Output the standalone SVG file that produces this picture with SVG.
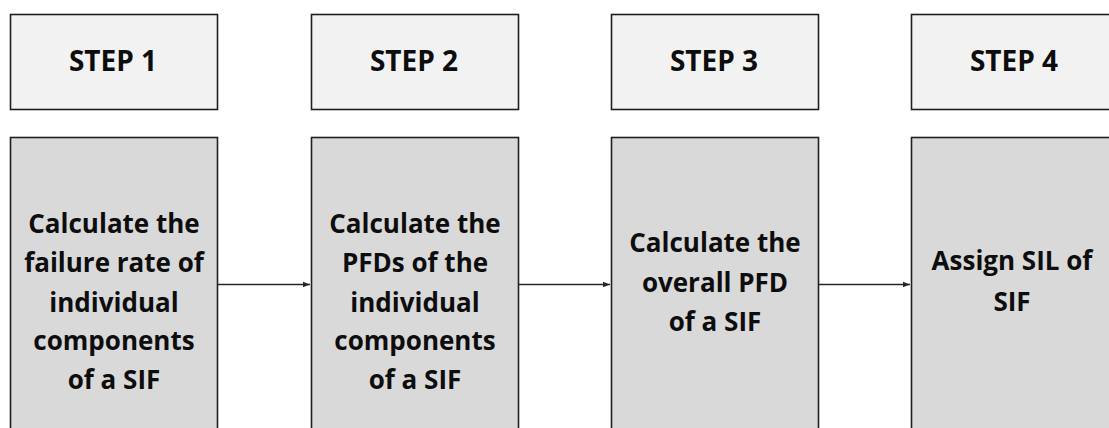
<svg xmlns="http://www.w3.org/2000/svg" width="1109" height="428" viewBox="0 0 1109 428">
  <style>
    .head { fill: #f2f2f2; stroke: #1f1f1f; stroke-width: 1.6; }
    .body { fill: #d9d9d9; stroke: #1f1f1f; stroke-width: 1.6; }
    text { font-family: "Open Sans", Lato, "Liberation Sans", sans-serif; font-weight: bold; fill: #0d0d0d; text-anchor: middle; font-size: 26px; }
    text.h { font-size: 28px; }
    .conn { stroke: #262626; stroke-width: 1.5; fill: none; marker-end: url(#arrow); }
  </style>
  <defs>
    <marker id="arrow" viewBox="0 0 10 10" refX="10" refY="5" markerWidth="8" markerHeight="7" markerUnits="userSpaceOnUse" orient="auto">
      <path d="M0,1 L10,5 L0,9 Z" fill="#262626"/>
    </marker>
  </defs>

  <!-- step headers -->
  <g id="step1-head"><rect class="head" x="10.5" y="14.5" width="207" height="95"/><text class="h" x="113" y="71">STEP 1</text></g>
  <g id="step2-head"><rect class="head" x="311.5" y="14.5" width="207" height="95"/><text class="h" x="414" y="71">STEP 2</text></g>
  <g id="step3-head"><rect class="head" x="611.5" y="14.5" width="207" height="95"/><text class="h" x="714" y="71">STEP 3</text></g>
  <g id="step4-head"><rect class="head" x="911.5" y="14.5" width="207" height="95"/><text class="h" x="1014" y="71">STEP 4</text></g>

  <!-- step tasks -->
  <g id="step1-task">
    <rect class="body" x="10.5" y="137.5" width="207" height="340"/>
    <text x="114" y="233">Calculate the</text>
    <text x="114" y="272">failure rate of</text>
    <text x="114" y="312">individual</text>
    <text x="114" y="350">components</text>
    <text x="114" y="389">of a SIF</text>
  </g>
  <g id="step2-task">
    <rect class="body" x="311.5" y="137.5" width="207" height="340"/>
    <text x="415" y="233">Calculate the</text>
    <text x="415" y="272">PFDs of the</text>
    <text x="415" y="312">individual</text>
    <text x="415" y="350">components</text>
    <text x="415" y="389">of a SIF</text>
  </g>
  <g id="step3-task">
    <rect class="body" x="611.5" y="137.5" width="207" height="340"/>
    <text x="715" y="252">Calculate the</text>
    <text x="715" y="292">overall PFD</text>
    <text x="715" y="331">of a SIF</text>
  </g>
  <g id="step4-task">
    <rect class="body" x="911.5" y="137.5" width="207" height="340"/>
    <text x="1012" y="270">Assign SIL of</text>
    <text x="1012" y="311">SIF</text>
  </g>

  <!-- connectors -->
  <g id="connectors">
    <line class="conn" x1="218" y1="284.5" x2="310" y2="284.5"/>
    <line class="conn" x1="519" y1="284.5" x2="610" y2="284.5"/>
    <line class="conn" x1="819" y1="284.5" x2="910" y2="284.5"/>
  </g>
</svg>
